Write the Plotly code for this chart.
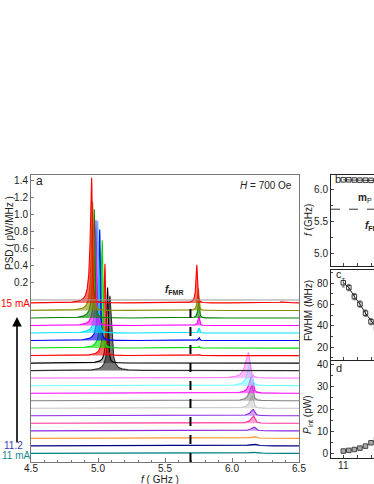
import numpy as np
import plotly.graph_objects as go

# ---------------- data ----------------
currents = [15.0, 14.8, 14.6, 14.4, 14.2, 14.0, 13.8, 13.6, 13.4, 13.2,
            13.0, 12.8, 12.6, 12.4, 12.2, 12.0, 11.8, 11.6, 11.4, 11.2, 11.0]
line_colors = ["#ff0000", "#8c8c00", "#008000", "#ff00ff", "#00e0ff", "#0000ff",
               "#00dd00", "#ff0000", "#000000", "#303030", "#ff80ff", "#66ffff",
               "#ff00ff", "#808080", "#c4c4c4", "#8a2be2", "#ff3399", "#8a2be2",
               "#ff9933", "#000080", "#008080"]
fill_alpha = [0.55, 0.6, 0.6, 0.6, 0.6, 0.6, 0.6, 0.6, 0.3, 0.65,
              0.5, 0.5, 0.5, 0.5, 0.5, 0.45, 0.45, 0.45, 0.4, 0.4, 0.4]
# main peak: frequency (GHz), height (pW/MHz), left/right half widths (GHz)
peak1_f = [4.953, 4.960, 4.972, 4.985, 4.998, 5.013, 5.032, 5.052, 5.072, 5.088,
           6.122, 6.135, 6.147, 6.148, 6.150, 6.158, 6.160, 6.165, 6.165, 6.162, 6.160]
peak1_a = [1.475, 1.28, 1.28, 1.24, 1.32, 1.31, 1.27, 1.08, 0.89, 0.88,
           0.30, 0.27, 0.22, 0.19, 0.15, 0.075, 0.085, 0.045, 0.025, 0.025, 0.015]
peak1_gl = [0.012, 0.011, 0.011, 0.011, 0.011, 0.011, 0.011, 0.011, 0.010, 0.014,
            0.026, 0.022, 0.020, 0.020, 0.020, 0.022, 0.022, 0.025, 0.030, 0.035, 0.040]
peak1_gr = [0.005, 0.005, 0.005, 0.005, 0.005, 0.005, 0.005, 0.005, 0.005, 0.014,
            0.012, 0.011, 0.010, 0.010, 0.010, 0.012, 0.012, 0.014, 0.020, 0.025, 0.030]
# second peak near 5.75 GHz
peak2_f = [5.738, 5.749, 5.752, 5.754, 5.755, 5.755, 5.755, 5.755, 5.755, 5.755,
           5.755, 5.755, 5.755, 5.755, 5.755, 5.755, 5.755, 5.755, 5.755, 5.755, 5.755]
peak2_a = [0.45, 0.255, 0.20, 0.11, 0.06, 0.035, 0.02, 0.015, 0.008, 0.0,
           0, 0, 0, 0, 0, 0, 0, 0, 0, 0, 0]
# weak bump near 6.37 GHz
peak3_f = 6.375
peak3_a = [0.012, 0.008] + [0.0] * 19

f_fmr = 5.69
H_field = "700 Oe"

# right-hand panels
I_small = [11.0, 11.2, 11.4, 11.6, 11.8, 12.0, 12.2]
f_mp = [6.145, 6.145, 6.142, 6.140, 6.140, 6.137, 6.135]
fwhm = [80.5, 76.0, 67.5, 60.5, 52.0, 44.0, 38.0]
fwhm_err = [4, 3, 3, 3, 3, 3, 3]
p_int = [1.3, 1.6, 2.0, 2.6, 3.5, 5.0, 6.5]

# ---------------- layout parameters ----------------
W, H = 374, 484
stack_top = -0.035
stack_step = 0.0885
FONT = "Liberation Sans, Arial, sans-serif"


def px_x(p):
    return p / W


def px_y(p):
    return (H - p) / H


def rgba(hexc, a):
    hexc = hexc.lstrip("#")
    r, g, b = int(hexc[0:2], 16), int(hexc[2:4], 16), int(hexc[4:6], 16)
    return f"rgba({r},{g},{b},{a})"


def lor(f, f0, a, gl, gr):
    g = np.where(f < f0, gl, gr)
    return a * g ** 2 / ((f - f0) ** 2 + g ** 2)


freq = np.linspace(4.5, 6.5, 2401)

fig = go.Figure()

for k in reversed(range(len(currents))):
    base = stack_top - stack_step * k
    y = (base
         + lor(freq, peak1_f[k], peak1_a[k], peak1_gl[k], peak1_gr[k])
         + lor(freq, peak2_f[k], peak2_a[k], 0.008, 0.005)
         + lor(freq, peak3_f, peak3_a[k], 0.03, 0.03))
    c = line_colors[k]
    fig.add_trace(go.Scatter(
        x=freq, y=y, mode="lines", line=dict(color=c, width=1.1),
        fill="toself", fillcolor=rgba(c, fill_alpha[k]),
        xaxis="x", yaxis="y", hoverinfo="skip", name=f"{currents[k]} mA"))

# right panels
fig.add_trace(go.Scatter(x=I_small, y=f_mp, mode="lines+markers", xaxis="x2", yaxis="y2",
                         line=dict(color="#333", width=1),
                         marker=dict(symbol="square-open", size=4.5, color="#333",
                                     line=dict(width=1))))
fig.add_trace(go.Scatter(x=I_small, y=fwhm, mode="lines+markers", xaxis="x3", yaxis="y3",
                         line=dict(color="#222", width=1),
                         error_y=dict(type="data", array=fwhm_err, color="#555",
                                      thickness=0.8, width=1.5),
                         marker=dict(symbol="square-open", size=4.5, color="#333",
                                     line=dict(width=1))))
fig.add_trace(go.Scatter(x=I_small, y=p_int, mode="lines+markers", xaxis="x4", yaxis="y4",
                         line=dict(color="#333", width=1),
                         marker=dict(symbol="square", size=4.5, color="#aaaaaa",
                                     line=dict(width=1, color="#444"))))

tickfont = dict(family=FONT, size=10, color="#222")
common_ax = dict(showgrid=False, zeroline=False, showline=True, ticks="inside",
                 tickfont=tickfont, automargin=False)

rd = [px_x(331), 1.0]
xr = [10.556, 12.108]

fig.update_layout(
    width=W, height=H, margin=dict(l=0, r=0, t=0, b=0, autoexpand=False),
    paper_bgcolor="white", plot_bgcolor="white", showlegend=False,
    font=dict(family=FONT, size=10, color="#222"),
    xaxis=dict(domain=[px_x(31), px_x(299)], range=[4.5, 6.5], anchor="y",
               tickvals=[4.5, 5.0, 5.5, 6.0, 6.5], ticktext=["4.5", "5.0", "5.5", "6.0", "6.5"],
               ticklen=4, linecolor="#777", mirror=True, ticklabelstandoff=-3,
               minor=dict(dtick=0.1, ticks="inside", ticklen=2, tickcolor="#777"),
               tickcolor="#777", **common_ax),
    yaxis=dict(domain=[px_y(462), px_y(175)], range=[-1.906, 1.47], anchor="x",
               tickvals=[0.2, 0.4, 0.6, 0.8, 1.0, 1.2, 1.4],
               ticktext=["0.2", "0.4", "0.6", "0.8", "1.0", "1.2", "1.4"],
               ticklen=3, linecolor="#777", tickcolor="#777", mirror=True, **common_ax),
    xaxis2=dict(domain=rd, range=xr, anchor="y2", showticklabels=False, dtick=1,
                ticklen=3, linecolor="#222", mirror=True,
                minor=dict(dtick=0.5, ticks="inside", ticklen=3), **common_ax),
    yaxis2=dict(domain=[px_y(266), px_y(175)], range=[4.81, 6.22], anchor="x2",
                tickvals=[5.0, 5.5, 6.0], ticktext=["5.0", "5.5", "6.0"],
                ticklen=3, linecolor="#222",
                minor=dict(dtick=0.25, ticks="inside", ticklen=2), **common_ax),
    xaxis3=dict(domain=rd, range=xr, anchor="y3", showticklabels=False, dtick=1,
                ticklen=3, linecolor="#222", mirror=True,
                minor=dict(dtick=0.5, ticks="inside", ticklen=3), **common_ax),
    yaxis3=dict(domain=[px_y(360), px_y(270)], range=[8, 92.5], anchor="x3",
                tickvals=[20, 40, 60, 80], ticklen=3, linecolor="#222",
                minor=dict(dtick=10, ticks="inside", ticklen=2), **common_ax),
    xaxis4=dict(domain=rd, range=xr, anchor="y4", dtick=1, ticklabelstandoff=-2,
                ticklen=3, linecolor="#222", mirror=True,
                minor=dict(dtick=0.5, ticks="inside", ticklen=3), **common_ax),
    yaxis4=dict(domain=[px_y(458), px_y(361)], range=[-1.8, 41.5], anchor="x4",
                tickvals=[0, 10, 20, 30, 40], ticklen=3, linecolor="#222",
                minor=dict(dtick=5, ticks="inside", ticklen=2), **common_ax),
)

shapes = [
    # zero reference line of the top spectrum
    dict(type="line", xref="x domain", yref="y", x0=0, x1=1, y0=0, y1=0,
         line=dict(color="#999", width=1)),
    # f_FMR in panel a
    dict(type="line", xref="x", yref="y", x0=f_fmr, x1=f_fmr, y0=-1.906, y1=-0.02,
         line=dict(color="black", width=2, dash="dash")),
    # f_FMR in panel b
    dict(type="line", xref="x2 domain", yref="y2", x0=0, x1=1, y0=f_fmr, y1=f_fmr,
         line=dict(color="#333", width=1, dash="dash")),
]
fig.update_layout(shapes=shapes)


def ann(x, y, text, size=10, color="#222", angle=0, xanchor="center", yanchor="middle"):
    return dict(x=x, y=y, xref="paper", yref="paper", text=text, showarrow=False,
                font=dict(family=FONT, size=size, color=color), textangle=angle,
                xanchor=xanchor, yanchor=yanchor)


annotations = [
    ann(px_x(9), px_y(233), "PSD ( pW/MHz )", size=10, angle=-90),
    ann(px_x(160), px_y(479), "<i>f</i> ( GHz )", size=10),
    ann(px_x(34), px_y(181), "a", size=12, xanchor="left"),
    ann(px_x(294), px_y(185), "<i>H</i> = " + H_field, size=10, xanchor="right"),
    ann(px_x(186), px_y(290), "<b><i>f</i></b><sub><b>FMR</b></sub>", size=10, xanchor="right"),
    ann(px_x(15), px_y(303), f"{currents[0]:.0f} mA", size=10, color="#ff0000"),
    ann(px_x(14), px_y(445), f"{currents[-2]:.1f}", size=10, color="#3b3bb0"),
    ann(px_x(16), px_y(455), f"{currents[-1]:.0f} mA", size=10, color="#1a8a8a"),
    ann(px_x(333), px_y(179), "b", size=11, xanchor="left"),
    ann(px_x(334), px_y(274), "c", size=11, xanchor="left"),
    ann(px_x(334), px_y(368), "d", size=11, xanchor="left"),
    ann(px_x(356), px_y(198), "<b>m</b><sub>P</sub>", size=10, xanchor="left"),
    ann(px_x(363), px_y(226), "<b><i>f</i></b><sub><b>FMR</b></sub>", size=10, xanchor="left"),
    ann(px_x(308), px_y(220), "<i>f</i> (GHz)", size=10, angle=-90),
    ann(px_x(308), px_y(311), "FWHM (MHz)", size=10, angle=-90),
    ann(px_x(308), px_y(415), "<i>P</i><sub>int</sub> (pW)", size=10, angle=-90),
    # current-direction arrow
    dict(x=px_x(17), y=px_y(317), xref="paper", yref="paper", ax=0, ay=127,
         axref="pixel", ayref="pixel", text="", showarrow=True, arrowhead=2,
         arrowsize=1.2, arrowwidth=1.6, arrowcolor="black"),
]
fig.update_layout(annotations=annotations)

fig.write_html("out.html", config={"displayModeBar": False},
               post_script="document.body.style.margin='0';document.body.style.overflow='hidden';")
